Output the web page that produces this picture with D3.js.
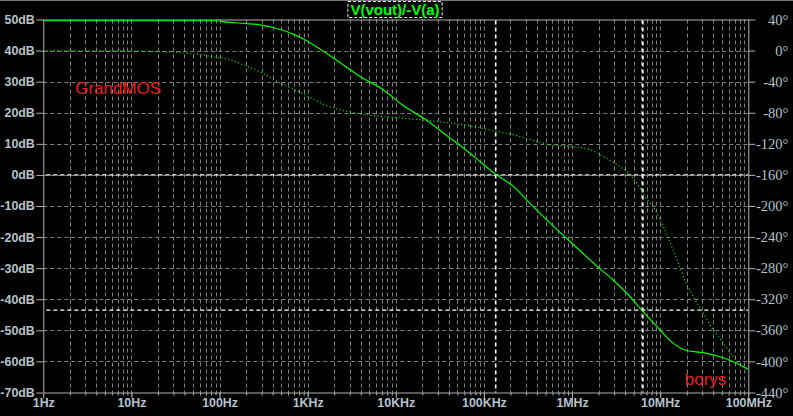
<!DOCTYPE html>
<html><head><meta charset="utf-8">
<script src="https://cdn.jsdelivr.net/npm/d3@7"></script>
<style>html,body{margin:0;padding:0;background:#000;}svg{display:block;}</style>
</head><body>
<script>
// ---- data ----
const title = "V(vout)/-V(a)";
const freqTicks = [1, 10, 100, 1e3, 1e4, 1e5, 1e6, 1e7, 1e8];
const freqTickLabels = ["1Hz","10Hz","100Hz","1KHz","10KHz","100KHz","1MHz","10MHz","100MHz"];
const dbTicks = [50,40,30,20,10,0,-10,-20,-30,-40,-50,-60,-70];
const degTicks = [40,0,-40,-80,-120,-160,-200,-240,-280,-320,-360,-400,-440];
// magnitude: log10(f), dB
const magLogF = [0,1,2,2.036,2.308,2.459,2.652,2.876,2.947,3.288,3.594,3.858,4.085,4.312,4.615,4.805,4.956,5.134,5.334,5.515,5.770,5.996,6.280,6.450,6.620,6.791,6.998,7.149,7.301,7.490,7.679,7.830,8.0];
const magDb   = [49.6,49.6,49.6,49.3,48.7,48.3,47.1,44.8,43.8,37.7,31.7,27.4,22.3,18.3,11.9,7.8,4.3,0.2,-3.7,-8.9,-16.0,-21.9,-29.3,-33.4,-38.0,-43.5,-49.9,-54.2,-56.5,-57.2,-58.5,-60.1,-62.5];
// phase: log10(f), degrees
const phLogF = [0,0.7,1.3,1.6,1.778,1.926,2.085,2.312,2.459,2.686,2.951,3.216,3.443,3.745,4.048,4.351,4.615,4.880,5.134,5.373,5.523,5.750,5.977,6.204,6.355,6.507,6.639,6.734,6.828,6.942,7.036,7.131,7.206,7.271,7.376,7.490,7.603,7.717,7.830,7.944,8.0];
const phDeg  = [0,-0.3,-1.2,-2.9,-5.1,-8.1,-10.7,-20.2,-27.3,-41.6,-55.7,-70.8,-78.2,-83.7,-86.7,-89.8,-93.1,-97.5,-103.9,-109.5,-114.6,-121.1,-123.3,-127.5,-136.2,-146.8,-157.5,-170.4,-187.7,-204.9,-226.4,-252.1,-273.5,-292.9,-316.6,-338.0,-359.5,-376.6,-393.9,-406.8,-409.7];
const cursorFreqs = [1.36e5, 6.36e6];
const cursorDb = [0, -43.5];
const notes = [{text:"GrandMOS", f:2.3, db:26.0},{text:"borys", f:1.9e7, db:-67.6}];

// ---- layout ----
const W = 793, H = 416;
const L = 43.3, R = 748.3, T = 19.5, B = 392.5;
const svg = d3.select("body").append("svg").attr("width", W).attr("height", H)
  .style("background", "#000");
const x = d3.scaleLog().domain([1, 1e8]).range([L, R]);
const y = d3.scaleLinear().domain([-70, 50]).range([B, T]);
const yp = d3.scaleLinear().domain([-440, 40]).range([B, T]);

svg.append("line").attr("x1",0).attr("x2",W).attr("y1",0.5).attr("y2",0.5).attr("stroke","#7a7a7a");

const gridC = "#808080";
const minor = [];
for (let d = 0; d < 8; d++) for (let m = 1; m <= 9; m++) { if (d===0 && m===1) continue; minor.push(m*Math.pow(10,d)); }
svg.append("g").selectAll("line").data(minor).join("line")
  .attr("x1", d=>Math.round(x(d))+0.5).attr("x2", d=>Math.round(x(d))+0.5)
  .attr("y1", T).attr("y2", B)
  .attr("stroke", gridC).attr("stroke-dasharray","4,3");
svg.append("g").selectAll("line").data(dbTicks.filter(d=>d!==50 && d!==-70)).join("line")
  .attr("x1", L).attr("x2", R)
  .attr("y1", d=>Math.round(y(d))+0.5).attr("y2", d=>Math.round(y(d))+0.5)
  .attr("stroke", gridC).attr("stroke-dasharray","4,3");

// axes
const axC = "#b0b0b0";
const labC = "#b6c2cc";
const gx = svg.append("g").attr("transform", `translate(0,${B})`)
  .call(d3.axisBottom(x).tickValues(minor.concat([1e8])).tickSize(3).tickFormat(""));
gx.selectAll("line").attr("stroke", axC);
gx.select(".domain").attr("stroke", axC).attr("d", `M${L},0.5H${R}`);
const gxMaj = svg.append("g").attr("transform", `translate(0,${B})`)
  .call(d3.axisBottom(x).tickValues(freqTicks).tickSize(6).tickFormat((d,i)=>freqTickLabels[i]));
gxMaj.select(".domain").remove();
gxMaj.selectAll("line").attr("stroke", axC);
gxMaj.selectAll("text").attr("fill", labC).attr("font-family","Liberation Sans, Arial, sans-serif")
  .attr("font-weight","bold").attr("font-size","12.4px").attr("dy","0.55em").attr("y",8);

const gy = svg.append("g").attr("transform", `translate(${L},0)`)
  .call(d3.axisLeft(y).tickValues(dbTicks).tickSize(7).tickPadding(1.5).tickFormat(d=>d+"dB"));
gy.select(".domain").attr("stroke", axC).attr("d", `M0.5,${T}V${B}`);
gy.selectAll("line").attr("stroke", axC);
gy.selectAll("text").attr("fill", labC).attr("font-family","Liberation Sans, Arial, sans-serif")
  .attr("font-weight","bold").attr("font-size","12.4px");

const gyr = svg.append("g").attr("transform", `translate(${R},0)`)
  .call(d3.axisRight(yp).tickValues(degTicks).tickSize(7).tickFormat(d=>d+"°"));
gyr.select(".domain").attr("stroke", axC).attr("d", `M0.5,${T}V${B}`);
gyr.selectAll("line").attr("stroke", axC);
gyr.selectAll("text").attr("fill", labC).attr("font-family","Liberation Serif, Times New Roman, serif")
  .attr("font-size","14.5px").attr("text-anchor","end").attr("x", 40);

svg.append("line").attr("x1",L).attr("x2",R).attr("y1",T+0.5).attr("y2",T+0.5).attr("stroke",axC);

// cursors
cursorFreqs.forEach(f=>{
  svg.append("line").attr("x1", x(f)).attr("x2", x(f)).attr("y1", T+1).attr("y2", B)
    .attr("stroke","#fff").attr("stroke-width",1.6).attr("stroke-dasharray","4,3");
});
cursorDb.forEach(v=>{
  svg.append("line").attr("x1", L+3).attr("x2", R).attr("y1", y(v)).attr("y2", y(v))
    .attr("stroke","#fff").attr("stroke-width",1.4).attr("stroke-dasharray","4,3");
});

// curves
const magLine = d3.line().x((d,i)=>x(Math.pow(10,magLogF[i]))).y(d=>y(d)).curve(d3.curveMonotoneX);
svg.append("path").attr("d", magLine(magDb)).attr("fill","none").attr("stroke","#00ff00").attr("stroke-width",1.2);
const phLine = d3.line().x((d,i)=>x(Math.pow(10,phLogF[i]))).y(d=>yp(d)).curve(d3.curveMonotoneX);
svg.append("path").attr("d", phLine(phDeg)).attr("fill","none").attr("stroke","#00ff00")
  .attr("stroke-width",1.2).attr("stroke-dasharray","1,2.5");

// title
const tg = svg.append("g");
const tt = tg.append("text").attr("x", 395).attr("y", 15).attr("text-anchor","middle")
  .attr("fill","#00ff00").attr("font-family","Liberation Sans, Arial, sans-serif")
  .attr("font-weight","bold").attr("font-size","15px").text(title);
const bb = tt.node().getBBox();
tg.insert("rect","text").attr("x", bb.x-2.5).attr("y", 1.5).attr("width", bb.width+5).attr("height", 16)
  .attr("fill","#000").attr("stroke","#fff").attr("stroke-dasharray","3,2");

// notes
notes.forEach(n=>{
  svg.append("text").attr("x", x(n.f)).attr("y", y(n.db)).attr("fill","#e8201c")
    .attr("font-family","Liberation Sans, Arial, sans-serif").attr("font-size","17px").text(n.text);
});
</script>
</body></html>
